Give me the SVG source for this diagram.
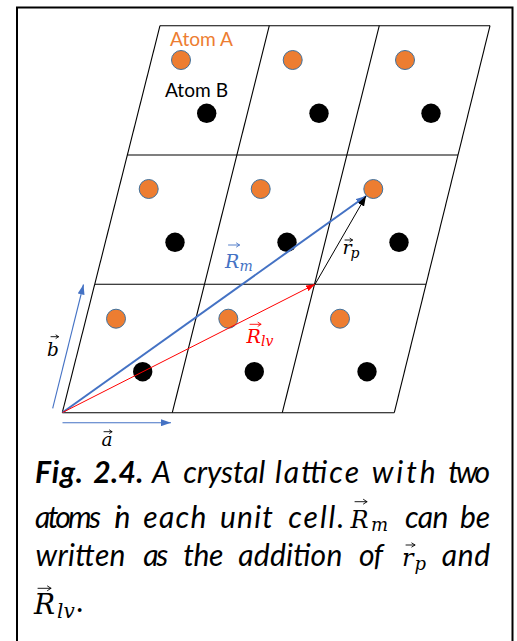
<svg xmlns="http://www.w3.org/2000/svg" width="517" height="641" viewBox="0 0 517 641">
<style>
.lat{stroke:#000;stroke-width:1.1;fill:none}
.atA{fill:#ED7D31;stroke:#41719C;stroke-width:1}
.atB{fill:#000}
.lbl{font-family:Lato,"Liberation Sans",sans-serif;font-size:19px}
.math{font-family:"DejaVu Serif","Liberation Serif",serif;font-style:italic}
.vec{fill:none;stroke-width:0.9;stroke-linecap:round;stroke-linejoin:round}
.cap{font-family:Lato,"Liberation Sans",sans-serif;font-style:italic;font-size:30px;fill:#000}
.b{font-weight:bold}
</style>
<defs>
<marker id="hBlue" viewBox="0 0 10 7" refX="10" refY="3.5" markerWidth="10" markerHeight="7" markerUnits="userSpaceOnUse" orient="auto"><path d="M0,0L10,3.5L0,7z" fill="#4472C4"/></marker>
<marker id="hRed" viewBox="0 0 10 7" refX="10" refY="3.5" markerWidth="9" markerHeight="6.5" markerUnits="userSpaceOnUse" orient="auto"><path d="M0,0L10,3.5L0,7z" fill="#FF0000"/></marker>
<marker id="hBlack" viewBox="0 0 10 7" refX="10" refY="3.5" markerWidth="10" markerHeight="7" markerUnits="userSpaceOnUse" orient="auto"><path d="M0,0L10,3.5L0,7z" fill="#000"/></marker>
</defs>
<rect x="17" y="7.5" width="495.5" height="645" fill="#fff" stroke="#000" stroke-width="2"/>
<g id="lattice">
<line class="lat" x1="160" y1="25.7" x2="490" y2="25.7"/>
<line class="lat" x1="127.5" y1="155" x2="458" y2="155"/>
<line class="lat" x1="95" y1="284.3" x2="426" y2="284.3"/>
<line class="lat" x1="62.3" y1="412.7" x2="394.3" y2="412.7"/>
<line class="lat" x1="62.3" y1="412.7" x2="160" y2="25.7"/>
<line class="lat" x1="172.3" y1="412.7" x2="269.3" y2="25.7"/>
<line class="lat" x1="282.3" y1="412.7" x2="379.3" y2="25.7"/>
<line class="lat" x1="394.3" y1="412.7" x2="490" y2="25.7"/>
</g>
<g id="atomsA">
<circle class="atA" cx="181" cy="60" r="9.5"/>
<circle class="atA" cx="292.7" cy="60" r="9.5"/>
<circle class="atA" cx="405" cy="60" r="9.5"/>
<circle class="atA" cx="148.7" cy="189" r="9.5"/>
<circle class="atA" cx="260.7" cy="189" r="9.5"/>
<circle class="atA" cx="373.3" cy="189" r="9.5"/>
<circle class="atA" cx="116" cy="318.7" r="9.5"/>
<circle class="atA" cx="228.3" cy="318.7" r="9.5"/>
<circle class="atA" cx="340" cy="318.7" r="9.5"/>
</g>
<g id="atomsB">
<circle class="atB" cx="206.7" cy="113.3" r="9.7"/>
<circle class="atB" cx="319" cy="113.3" r="9.7"/>
<circle class="atB" cx="431" cy="113.3" r="9.7"/>
<circle class="atB" cx="175" cy="242.3" r="9.7"/>
<circle class="atB" cx="287" cy="242.3" r="9.7"/>
<circle class="atB" cx="399" cy="242.3" r="9.7"/>
<circle class="atB" cx="142.7" cy="371.7" r="9.7"/>
<circle class="atB" cx="254.3" cy="371.7" r="9.7"/>
<circle class="atB" cx="367" cy="371.7" r="9.7"/>
</g>
<g id="labelA"><text class="lbl" x="170" y="46" fill="#ED7D31" textLength="63" lengthAdjust="spacingAndGlyphs">Atom A</text></g>
<g id="labelB"><text class="lbl" x="165" y="97.3" fill="#000" textLength="63" lengthAdjust="spacingAndGlyphs">Atom B</text></g>
<g id="connectors">
<line x1="62.5" y1="422.7" x2="171" y2="422.7" stroke="#4472C4" stroke-width="1.1" marker-end="url(#hBlue)"/>
<line x1="52.7" y1="408.3" x2="83.5" y2="284.5" stroke="#4472C4" stroke-width="1.1" marker-end="url(#hBlue)"/>
<line x1="62.5" y1="412.5" x2="366" y2="196" stroke="#4472C4" stroke-width="2" marker-end="url(#hBlue)"/>
<line x1="62.5" y1="412.5" x2="315" y2="284.3" stroke="#FF0000" stroke-width="1" marker-end="url(#hRed)"/>
<line x1="315" y1="284.3" x2="366" y2="196" stroke="#000" stroke-width="1" marker-end="url(#hBlack)"/>
</g>
<g id="vecLabels">
<g id="lblRm" fill="#4472C4">
<text class="math" x="225" y="267.7" font-size="19">R</text>
<text class="math" x="239.5" y="271" font-size="14">m</text>
<path class="vec" stroke="#4472C4" d="M228.5,245H239.5M236.5,243L239.5,245L236.5,247"/>
</g>
<g id="lblRlv" fill="#FF0000">
<text class="math" x="246.5" y="342.7" font-size="19">R</text>
<text class="math" x="261" y="346" font-size="14">lv</text>
<path class="vec" stroke="#FF0000" d="M250,324.3H261M258,322.3L261,324.3L258,326.3"/>
</g>
<g id="lblrp" fill="#000">
<text class="math" x="342.5" y="254" font-size="19">r</text>
<text class="math" x="350.5" y="257.5" font-size="14">p</text>
<path class="vec" stroke="#000" d="M345,240H352.5M350,238.3L352.5,240L350,241.7"/>
</g>
<g id="lblb" fill="#000">
<text class="math" x="47" y="356" font-size="18.5">b</text>
<path class="vec" stroke="#000" d="M51,336.7H58.5M56,335L58.5,336.7L56,338.4"/>
</g>
<g id="lbla" fill="#000">
<text class="math" x="101.5" y="446" font-size="18.5">a</text>
<path class="vec" stroke="#000" d="M104,431.7H112M109.5,430L112,431.7L109.5,433.4"/>
</g>
</g>
<g id="caption">
<text class="cap b" x="35" y="483" textLength="48" lengthAdjust="spacing">Fig.</text>
<text class="cap b" x="93.3" y="483" textLength="50" lengthAdjust="spacing">2.4.</text>
<text class="cap" x="152" y="483">A</text>
<text class="cap" x="183.3" y="483" textLength="82" lengthAdjust="spacing">crystal</text>
<text class="cap" x="275" y="483" textLength="84" lengthAdjust="spacing">lattice</text>
<text class="cap" x="371.7" y="483" textLength="64" lengthAdjust="spacing">with</text>
<text class="cap" x="448.3" y="483" textLength="41.7" lengthAdjust="spacing">two</text>
<text class="cap" x="35" y="528" textLength="66" lengthAdjust="spacing">atoms</text>
<text class="cap" x="114.5" y="528" textLength="16" lengthAdjust="spacing">in</text>
<text class="cap" x="143.3" y="528" textLength="63" lengthAdjust="spacing">each</text>
<text class="cap" x="220" y="528" textLength="53" lengthAdjust="spacing">unit</text>
<text class="cap" x="288.3" y="528" textLength="56" lengthAdjust="spacing">cell.</text>
<text class="cap" x="405" y="528" textLength="43.3" lengthAdjust="spacing">can</text>
<text class="cap" x="460" y="528" textLength="30" lengthAdjust="spacing">be</text>
<text class="math" x="350.5" y="527.5" font-size="24">R</text>
<text class="math" x="371" y="531" font-size="18">m</text>
<path class="vec" stroke="#000" stroke-width="1.2" d="M355,501.7H367M363.5,499.4L367,501.7L363.5,504"/>
<text class="cap" x="35.5" y="566" textLength="90" lengthAdjust="spacing">written</text>
<text class="cap" x="143.3" y="566" textLength="25" lengthAdjust="spacing">as</text>
<text class="cap" x="183.3" y="566" textLength="40" lengthAdjust="spacing">the</text>
<text class="cap" x="238.3" y="566" textLength="104" lengthAdjust="spacing">addition</text>
<text class="cap" x="359" y="566" textLength="24" lengthAdjust="spacing">of</text>
<text class="cap" x="441.7" y="566" textLength="48.3" lengthAdjust="spacing">and</text>
<text class="math" x="402" y="565.7" font-size="24">r</text>
<text class="math" x="414.5" y="570" font-size="18">p</text>
<path class="vec" stroke="#000" stroke-width="1.2" d="M406,545H415M411.8,543L415,545L411.8,547"/>
<text class="math" x="34" y="614.3" font-size="28">R</text>
<text class="math" x="57" y="618" font-size="20">lv</text>
<text class="cap" x="77" y="612">.</text>
<path class="vec" stroke="#000" stroke-width="1.2" d="M38,588.3H51M47.5,586L51,588.3L47.5,590.6"/>
</g>
</svg>
